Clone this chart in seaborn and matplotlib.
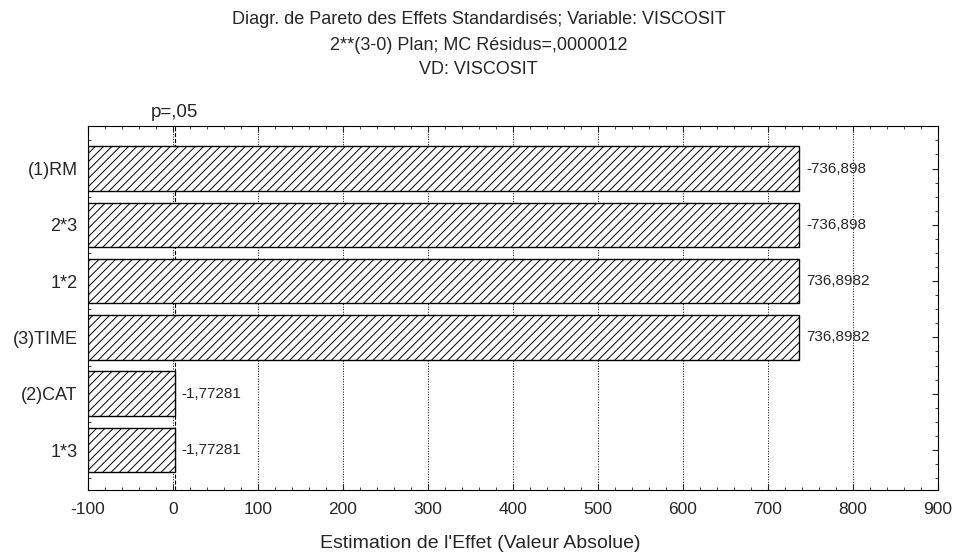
import matplotlib
matplotlib.use("Agg")
import matplotlib.pyplot as plt
import seaborn as sns
import pandas as pd
import numpy as np
from matplotlib.ticker import MultipleLocator

# données
effets = ['(1)RM', '2*3', '1*2', '(3)TIME', '(2)CAT', '1*3']
valeurs = [-736.898, -736.898, 736.8982, 736.8982, -1.77281, -1.77281]
etiquettes = ['-736,898', '-736,898', '736,8982', '736,8982', '-1,77281', '-1,77281']
p_limite = 1.96
x_min, x_max = -100, 900

sns.set_style('white')
plt.rcParams['font.family'] = ['Liberation Sans', 'DejaVu Sans']
plt.rcParams['axes.unicode_minus'] = False
plt.rcParams['hatch.linewidth'] = 0.7

df = pd.DataFrame({'effet': effets, 'abs': np.abs(valeurs)})

fig = plt.figure(figsize=(9.57, 5.57), dpi=100)
ax = fig.add_axes([88 / 957, 1 - 490 / 557, 850 / 957, 364 / 557])
sns.barplot(data=df, x='abs', y='effet', orient='h', color='white',
            edgecolor='black', linewidth=1.0, width=0.79, ax=ax)

# les barres partent du bord gauche de l'axe (style Statistica)
for p, v in zip(ax.patches, df['abs']):
    p.set_x(x_min)
    p.set_width(v - x_min)
    p.set_hatch('////')
    p.set_zorder(3)

for i, (v, t) in enumerate(zip(df['abs'], etiquettes)):
    ax.annotate(t, (v, i), xytext=(5, 0), textcoords='offset points',
                va='center', ha='left', fontsize=11, zorder=4)

ax.set_xlim(x_min, x_max)
ax.set_ylim(5.71, -0.755)
ax.xaxis.set_major_locator(MultipleLocator(100))
ax.xaxis.set_minor_locator(MultipleLocator(20))
ax.yaxis.set_minor_locator(MultipleLocator(0.25))
ax.grid(axis='x', which='major', linestyle=':', color='black', linewidth=0.7, zorder=1)
ax.axvline(p_limite, color='black', linestyle='--', linewidth=0.8, zorder=2)
ax.text(p_limite, -0.85, 'p=,05', transform=ax.transData, ha='center', va='bottom', fontsize=13.5)

ax.tick_params(which='both', direction='in', top=True, right=True, left=True, bottom=True)
ax.tick_params(axis='x', which='major', length=4, labelsize=12.5, pad=8.5)
ax.tick_params(axis='y', which='major', length=4, labelsize=13, pad=7.5)
ax.tick_params(which='minor', length=2)
for s in ax.spines.values():
    s.set_color('black')
    s.set_linewidth(0.8)

ax.set_xlabel('')
ax.set_ylabel('')

fig.text(480 / 957, 1 - 543 / 557, "Estimation de l'Effet (Valeur Absolue)", ha='center', va='center', fontsize=14)
fig.text(0.5, 1 - 20 / 557, 'Diagr. de Pareto des Effets Standardisés; Variable: VISCOSIT', ha='center', va='center', fontsize=13)
fig.text(0.5, 1 - 45 / 557, '2**(3-0) Plan; MC Résidus=,0000012', ha='center', va='center', fontsize=13)
fig.text(0.5, 1 - 70 / 557, 'VD: VISCOSIT', ha='center', va='center', fontsize=13)

fig.savefig('out.png', dpi=100)
